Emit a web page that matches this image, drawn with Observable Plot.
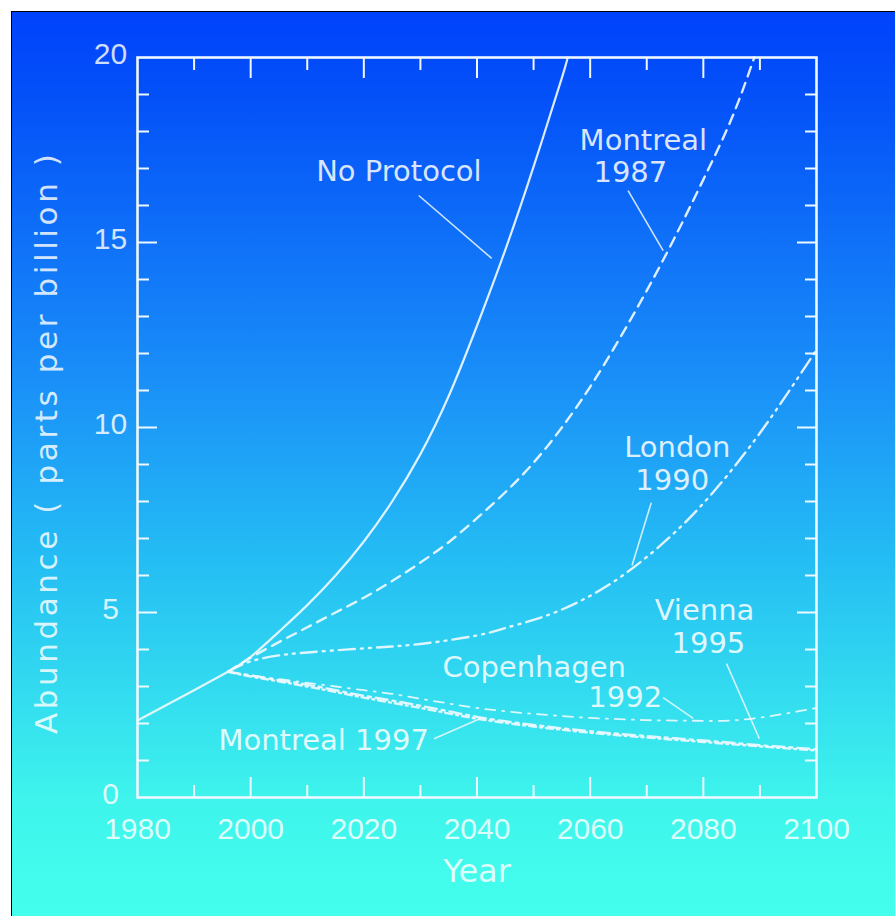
<!DOCTYPE html>
<html><head><meta charset="utf-8">
<script src="https://cdn.jsdelivr.net/npm/d3@7"></script>
<script src="https://cdn.jsdelivr.net/npm/@observablehq/plot@0.6"></script>
<style>
html,body{margin:0;padding:0;background:#fff;overflow:hidden;width:895px;height:916px;}
#wrap{position:absolute;left:11px;top:11px;width:884px;height:905px;border-left:1px solid #000;border-top:1px solid #000;
background:linear-gradient(to bottom,#0042fc 0%,#0452f8 10%,#1a90f8 41%,#24bcf4 60%,#3ef4ec 87%,#44ffec 100%);}
#wrap svg{display:block;}
</style></head><body><div id="wrap"></div>
<script>
// ---- data ----
const noProtocolYears = [1980,1990,1996,2000,2005,2010,2015,2020,2025,2030,2035,2040,2045,2050,2055,2056];
const noProtocol      = [2.08,2.9,3.4,3.8,4.48,5.2,6.0,6.92,8.0,9.28,10.85,12.75,14.8,17.05,19.45,20.0];

const montreal87Years = [1996,2000,2005,2010,2015,2020,2025,2030,2035,2040,2045,2050,2055,2060,2065,2070,2075,2080,2085,2089];
const montreal87      = [3.4,3.78,4.2,4.6,5.0,5.4,5.85,6.35,6.9,7.55,8.25,9.05,10.0,11.1,12.35,13.7,15.15,16.7,18.35,20.0];

const london90Years = [1996,2000,2005,2010,2020,2030,2040,2045,2050,2055,2060,2065,2070,2075,2080,2085,2090,2095,2100];
const london90      = [3.4,3.68,3.84,3.92,4.03,4.15,4.38,4.58,4.8,5.08,5.45,5.92,6.5,7.17,7.95,8.85,9.85,10.95,12.1];

const copenhagen92Years = [1996,2000,2005,2010,2015,2020,2025,2030,2035,2040,2045,2050,2055,2060,2065,2070,2075,2080,2085,2090,2095,2100];
const copenhagen92      = [3.4,3.3,3.2,3.1,3.0,2.9,2.8,2.67,2.54,2.42,2.33,2.26,2.2,2.15,2.12,2.09,2.08,2.07,2.08,2.16,2.28,2.42];

const vienna95Years = [1996,2000,2005,2010,2015,2020,2025,2030,2035,2040,2045,2050,2055,2060,2065,2070,2075,2080,2085,2090,2095,2100];
const vienna95      = [3.4,3.3,3.17,3.05,2.9,2.75,2.62,2.48,2.33,2.18,2.06,1.96,1.87,1.79,1.72,1.66,1.6,1.54,1.48,1.41,1.36,1.3];

const montreal97Years = [1996,2000,2010,2020,2030,2040,2050,2060,2070,2080,2090,2100];
const montreal97      = [3.4,3.27,3.0,2.7,2.42,2.13,1.92,1.75,1.62,1.5,1.38,1.27];

const xTickLabels = [1980,2000,2020,2040,2060,2080,2100];
const xMajorTicks = [2000,2020,2040,2060,2080];
const xMinorTicks = [1990,2010,2030,2050,2070,2090];
const yTickLabels = [0,5,10,15,20];
const yMajorTicks = [5,10,15];
const yMinorTicks = [1,2,3,4,6,7,8,9,11,12,13,14,16,17,18,19];

const labelText  = ["No Protocol","Montreal","1987","London","1990","Vienna","1995","Copenhagen","1992","Montreal 1997"];
const labelYear  = [2026.2,2069.4,2067.1,2075.4,2074.5,2080.2,2080.9,2050.1,2066.2,2012.9];
const labelValue = [16.9,17.75,16.88,9.46,8.57,5.05,4.16,3.51,2.70,1.54];

// leader lines: start (near label) -> end (on curve)
const leaderYear1  = [2029.7,2066.7,2070.8,2072.9,2084.1,2032.4];
const leaderValue1 = [16.27,16.4,7.97,2.70,3.62,1.59];
const leaderYear2  = [2042.6,2072.9,2067.4,2078.2,2089.9,2040.7];
const leaderValue2 = [14.57,14.78,6.27,2.14,1.59,2.14];

// ---- build tables ----
const toRows = (yrs, vals) => yrs.map((t, i) => ({year: t, value: vals[i]}));
const labels = labelText.map((t, i) => ({text: t, year: labelYear[i], value: labelValue[i]}));
const leaders = leaderYear1.map((t, i) => ({x1: t, y1: leaderValue1[i], x2: leaderYear2[i], y2: leaderValue2[i]}));

const LINE = "#eef8ff";
const TXT = "#ffffff";
const lineOpts = (dash, w) => ({x: "year", y: "value", stroke: LINE, strokeOpacity: 0.92, strokeWidth: w, strokeDasharray: dash, curve: "natural"});

const chart = Plot.plot({
  width: 883, height: 904,
  marginLeft: 125, marginRight: 79, marginTop: 45, marginBottom: 119,
  x: {domain: [1980, 2100], axis: null},
  y: {domain: [0, 20], axis: null},
  style: {background: "transparent", color: LINE, overflow: "visible"},
  marks: [
    // inward ticks
    Plot.axisX(xMajorTicks, {anchor: "bottom", tickSize: 20, dy: -20, tickFormat: () => "", stroke: LINE, strokeWidth: 2}),
    Plot.axisX(xMinorTicks, {anchor: "bottom", tickSize: 12, dy: -12, tickFormat: () => "", stroke: LINE, strokeWidth: 2}),
    Plot.axisX(xMajorTicks, {anchor: "top", tickSize: 20, dy: 20, tickFormat: () => "", stroke: LINE, strokeWidth: 2}),
    Plot.axisX(xMinorTicks, {anchor: "top", tickSize: 12, dy: 12, tickFormat: () => "", stroke: LINE, strokeWidth: 2}),
    Plot.axisY(yMajorTicks, {anchor: "left", tickSize: 20, dx: 20, tickFormat: () => "", stroke: LINE, strokeWidth: 2}),
    Plot.axisY(yMinorTicks, {anchor: "left", tickSize: 12, dx: 12, tickFormat: () => "", stroke: LINE, strokeWidth: 2}),
    Plot.axisY(yMajorTicks, {anchor: "right", tickSize: 20, dx: -20, tickFormat: () => "", stroke: LINE, strokeWidth: 2}),
    Plot.axisY(yMinorTicks, {anchor: "right", tickSize: 12, dx: -12, tickFormat: () => "", stroke: LINE, strokeWidth: 2}),
    Plot.frame({stroke: LINE, strokeWidth: 2.6}),
    // tick labels
    Plot.text(xTickLabels, {x: d => d, frameAnchor: "bottom", lineAnchor: "middle", dy: 32, text: d => String(d), fontSize: 30, fontFamily: "Liberation Sans", fill: TXT, fillOpacity: 0.82}),
    Plot.text(yTickLabels, {y: d => d, frameAnchor: "left", dx: -27, dy: -3, text: d => String(d), textAnchor: "middle", fontSize: 30, fontFamily: "Liberation Sans", fill: TXT, fillOpacity: 0.82}),
    // axis titles
    Plot.text(["Year"], {frameAnchor: "bottom", lineAnchor: "middle", dy: 74, text: d => d, fontSize: 32, fontFamily: "DejaVu Sans", fill: TXT, fillOpacity: 0.82}),
    Plot.text(["Abundance ( parts per billion )"], {frameAnchor: "left", y: () => 9.6, dx: -90, rotate: -90, textAnchor: "middle", lineAnchor: "middle", text: d => d, fontSize: 31, fontFamily: "DejaVu Sans", fill: TXT, fillOpacity: 0.82}),
    // curves
    Plot.line(toRows(noProtocolYears, noProtocol), lineOpts(null, 2.2)),
    Plot.line(toRows(montreal87Years, montreal87), lineOpts("10,7", 2.4)),
    Plot.line(toRows(london90Years, london90), lineOpts("16,6,2,6,2,6", 2.4)),
    Plot.line(toRows(copenhagen92Years, copenhagen92), lineOpts("10,7,2,7", 1.8)),
    Plot.line(toRows(vienna95Years, vienna95), lineOpts("12,5,3,5", 2.4)),
    Plot.line(toRows(montreal97Years, montreal97), lineOpts("7,4,2,4", 2.4)),
    // leaders and labels
    Plot.link(leaders, {x1: "x1", y1: "y1", x2: "x2", y2: "y2", stroke: LINE, strokeOpacity: 0.85, strokeWidth: 1.6}),
    Plot.text(labels, {x: "year", y: "value", text: "text", fontSize: 29, fontFamily: "DejaVu Sans", fill: TXT, fillOpacity: 0.85})
  ]
});
document.getElementById("wrap").appendChild(chart);
d3.select(chart).selectAll("text").filter(function() { return this.textContent === "Abundance ( parts per billion )"; })
  .attr("letter-spacing", "3.6px");
</script>
</body></html>
